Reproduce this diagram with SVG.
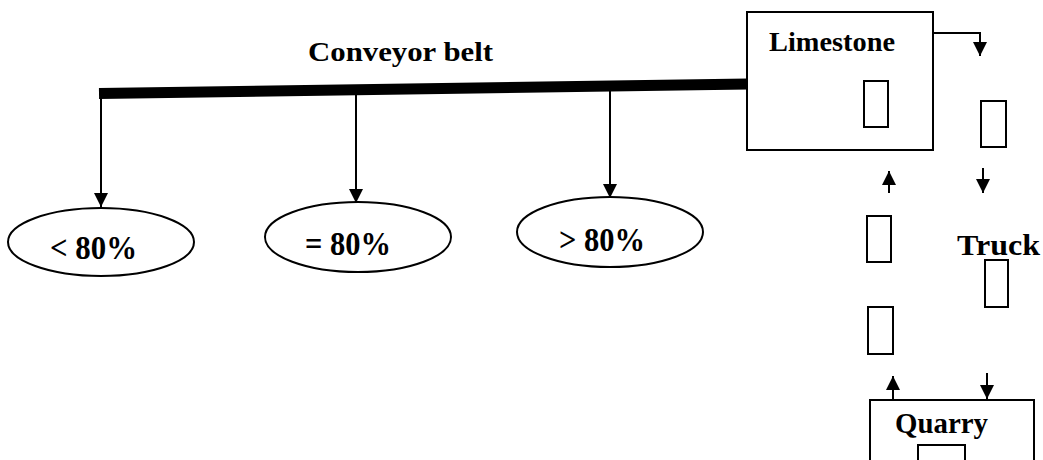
<svg xmlns="http://www.w3.org/2000/svg" width="1043" height="460" viewBox="0 0 1043 460">
  <style>
    .box { fill: #fff; stroke: #000; stroke-width: 2; }
    .car { fill: #fff; stroke: #000; stroke-width: 2; }
    .oval { fill: #fff; stroke: #000; stroke-width: 2; }
    .lbl { font-family: "Liberation Serif", "Times New Roman", serif; font-weight: bold; fill: #000; }
    .conn { fill: none; stroke: #000; stroke-width: 2; }
    .belt { fill: none; stroke: #000; stroke-width: 11; }
  </style>
  <defs>
    <marker id="ah" markerUnits="userSpaceOnUse" markerWidth="14" markerHeight="14" refX="14" refY="7" orient="auto">
      <path d="M0,0 L14,7 L0,14 Z" fill="#000"/>
    </marker>
  </defs>
  <rect width="1043" height="460" fill="#fff"/>

  <g id="connectors">
    <line class="belt" x1="99" y1="93.5" x2="748" y2="84"/>
    <line class="conn" x1="101" y1="96" x2="101" y2="207" marker-end="url(#ah)"/>
    <line class="conn" x1="356" y1="92" x2="356" y2="203" marker-end="url(#ah)"/>
    <line class="conn" x1="610" y1="88" x2="610" y2="198" marker-end="url(#ah)"/>
    <path class="conn" d="M933,33 H980 V56" marker-end="url(#ah)"/>
    <line class="conn" x1="983" y1="168" x2="983" y2="193" marker-end="url(#ah)"/>
    <line class="conn" x1="889" y1="193" x2="889" y2="171" marker-end="url(#ah)"/>
    <line class="conn" x1="893" y1="400" x2="893" y2="376" marker-end="url(#ah)"/>
    <line class="conn" x1="987" y1="373" x2="987" y2="399" marker-end="url(#ah)"/>
  </g>

  <g id="conveyor-label">
    <text class="lbl" x="308" y="61" font-size="28" textLength="185" lengthAdjust="spacingAndGlyphs">Conveyor belt</text>
  </g>

  <g id="limestone">
    <rect class="box" x="747" y="12" width="186" height="138"/>
    <text class="lbl" x="769" y="51" font-size="27" textLength="126" lengthAdjust="spacingAndGlyphs">Limestone</text>
    <rect class="car" x="864" y="81" width="24" height="46"/>
  </g>

  <g id="less80">
    <ellipse class="oval" cx="101" cy="242" rx="93" ry="34"/>
    <text class="lbl" x="50" y="259" font-size="33" textLength="87" lengthAdjust="spacingAndGlyphs">&lt; 80%</text>
  </g>
  <g id="eq80">
    <ellipse class="oval" cx="358" cy="237" rx="93" ry="35"/>
    <text class="lbl" x="305" y="255" font-size="33" textLength="86" lengthAdjust="spacingAndGlyphs">= 80%</text>
  </g>
  <g id="more80">
    <ellipse class="oval" cx="610" cy="232" rx="93" ry="35"/>
    <text class="lbl" x="559" y="251" font-size="33" textLength="86" lengthAdjust="spacingAndGlyphs">&gt; 80%</text>
  </g>

  <g id="truck-1">
    <rect class="car" x="981" y="101" width="25" height="46"/>
  </g>
  <g id="truck-2">
    <rect class="car" x="867" y="216" width="24" height="46"/>
  </g>
  <g id="truck-label">
    <text class="lbl" x="957" y="255" font-size="29" textLength="83" lengthAdjust="spacingAndGlyphs">Truck</text>
    <rect class="car" x="985" y="260" width="23" height="47"/>
  </g>
  <g id="truck-3">
    <rect class="car" x="868" y="307" width="25" height="47"/>
  </g>

  <g id="quarry">
    <path class="box" d="M870,462 V400 H1034 V462"/>
    <text class="lbl" x="895" y="433" font-size="29" textLength="93" lengthAdjust="spacingAndGlyphs">Quarry</text>
    <path class="car" d="M918,462 V445 H965 V462"/>
  </g>
</svg>
